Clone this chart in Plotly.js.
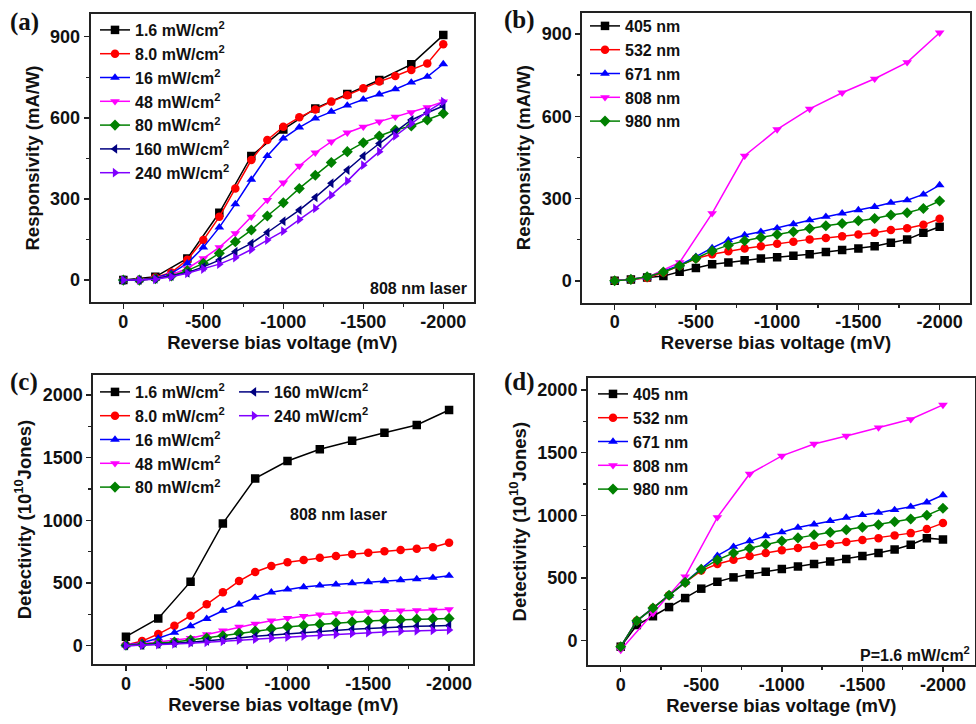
<!DOCTYPE html>
<html>
<head>
<meta charset="utf-8">
<script src="https://cdn.plot.ly/plotly-3.0.1.min.js"></script>
<style>html,body{margin:0;padding:0;background:#fff;}#chart{width:976px;height:724px;}</style>
</head>
<body>
<div id="chart"></div>
<script>
// ---------------- data ----------------
const volt = [0,-100,-200,-300,-400,-500,-600,-700,-800,-900,-1000,-1100,-1200,-1300,-1400,-1500,-1600,-1700,-1800,-1900,-2000];
const voltCoarse = [0,-200,-400,-600,-800,-1000,-1200,-1400,-1600,-1800,-2000];

const xTickVals = [0,-500,-1000,-1500,-2000];
const xTickText = ['0','-500','-1000','-1500','-2000'];
const respTickVals = [0,300,600,900];
const detTickVals = [0,500,1000,1500,2000];

const powerNames = ['1.6 mW/cm<sup>2</sup>','8.0 mW/cm<sup>2</sup>','16 mW/cm<sup>2</sup>','48 mW/cm<sup>2</sup>','80 mW/cm<sup>2</sup>','160 mW/cm<sup>2</sup>','240 mW/cm<sup>2</sup>'];
const waveNames = ['405 nm','532 nm','671 nm','808 nm','980 nm'];

// (a) responsivity vs power, 808 nm
const respA_1p6 = [0,12,80,249,459,557,635,688,740,798,906];
const respA_8   = [0,0,10,28,75,148,234,339,444,518,567,602,631,660,684,709,734,755,777,801,872];
const respA_16  = [0,0,8,25,62,121,195,281,372,459,524,565,598,623,646,668,687,706,731,752,799];
const respA_48  = [0,0,5,20,43,80,121,173,234,296,360,422,471,512,545,567,586,604,620,639,660];
const respA_80  = [0,0,5,15,35,62,99,142,185,237,286,339,388,435,475,508,533,555,570,592,616];
const respA_160 = [0,0,5,15,27,49,74,105,136,176,218,259,306,358,407,459,505,549,592,619,644];
const respA_240 = [0,0,3,12,25,41,59,83,113,148,181,224,265,314,366,425,475,533,579,623,660];

// (b) responsivity vs wavelength
const respB_405 = [0,5,12,17,33,47,60,67,75,81,86,91,97,105,112,118,126,139,151,175,197];
const respB_532 = [0,5,10,30,55,81,97,108,118,126,135,142,151,156,162,169,175,185,192,204,226];
const respB_671 = [0,5,12,35,57,88,120,148,167,179,192,207,221,234,246,258,270,285,294,315,349];
const respB_808 = [0,12,67,246,456,552,627,686,737,797,905];
const respB_980 = [0,5,15,32,55,81,109,130,146,158,169,179,191,201,209,219,227,240,248,264,291];

// (c) detectivity vs power
const detC_1p6 = [72,218,511,976,1335,1474,1567,1636,1700,1761,1881];
const detC_8   = [5,37,93,160,239,330,426,516,588,636,665,684,702,716,729,742,753,763,774,785,822];
const detC_16  = [5,24,59,104,157,215,279,330,383,426,449,468,481,489,500,508,516,524,532,543,559];
const detC_48  = [5,15,30,45,60,90,120,150,175,200,220,235,248,258,264,270,275,279,282,285,290];
const detC_80  = [3,10,20,30,45,62,80,100,118,135,150,162,172,182,190,197,203,208,212,215,218];
const detC_160 = [0,5,12,20,28,38,50,62,75,85,95,105,115,123,132,138,145,150,155,158,162];
const detC_240 = [0,3,8,14,20,27,35,44,52,60,68,76,84,91,98,104,110,115,119,122,125];

// (d) detectivity vs wavelength
const detD_405 = [-48,125,195,268,340,415,470,505,530,550,572,592,612,632,652,675,700,728,765,818,808];
const detD_532 = [-48,158,260,362,465,559,612,645,675,700,722,740,757,772,787,803,818,840,858,890,938];
const detD_671 = [-48,158,260,362,465,575,678,750,795,835,865,902,928,955,982,1003,1021,1043,1069,1104,1162];
const detD_808 = [-75,218,511,984,1330,1474,1569,1633,1700,1766,1881];
const detD_980 = [-48,158,260,362,465,569,644,700,738,768,795,820,845,865,885,905,925,948,970,1000,1056];

// ---------------- styles ----------------
const FONT = 'Liberation Sans, Arial, sans-serif';
const powerColors = ['#000000','#ff0000','#0000ff','#ff00ff','#008000','#000080','#8000ff'];
const powerSymbols = ['square','circle','triangle-up','triangle-down','diamond','triangle-left','triangle-right'];
const waveColors = ['#000000','#ff0000','#0000ff','#ff00ff','#008000'];
const waveSymbols = ['square','circle','triangle-up','triangle-down','diamond'];

function tr(x, y, name, color, symbol, xa, ya, legend) {
  return {
    type: 'scatter', mode: 'lines+markers', x: x, y: y, name: name,
    xaxis: xa, yaxis: ya, legend: legend,
    line: {color: color, width: 1.5},
    marker: {color: color, symbol: symbol, size: 8.5, line: {width: 0}}
  };
}

const traces = [];
const aY = [respA_1p6, respA_8, respA_16, respA_48, respA_80, respA_160, respA_240];
aY.forEach((y, i) => traces.push(tr(i === 0 ? voltCoarse : volt, y, powerNames[i], powerColors[i], powerSymbols[i], 'x', 'y', 'legend')));
const bY = [respB_405, respB_532, respB_671, respB_808, respB_980];
bY.forEach((y, i) => traces.push(tr(i === 3 ? voltCoarse : volt, y, waveNames[i], waveColors[i], waveSymbols[i], 'x2', 'y2', 'legend2')));
const cY = [detC_1p6, detC_8, detC_16, detC_48, detC_80, detC_160, detC_240];
cY.forEach((y, i) => traces.push(tr(i === 0 ? voltCoarse : volt, y, powerNames[i], powerColors[i], powerSymbols[i], 'x3', 'y3', i < 5 ? 'legend3' : 'legend5')));
const dY = [detD_405, detD_532, detD_671, detD_808, detD_980];
dY.forEach((y, i) => traces.push(tr(i === 3 ? voltCoarse : volt, y, waveNames[i], waveColors[i], waveSymbols[i], 'x4', 'y4', 'legend4')));

const W = 976, H = 724;
function px(v) { return v / W; }
function py(v) { return 1 - v / H; }

const tickFont = {family: FONT, size: 18, color: '#111', weight: 'bold'};
const titleFont = {family: FONT, size: 18.5, color: '#111', weight: 'bold'};

function xAxis(l, r, range, anchor) {
  return {
    domain: [px(l), px(r)], range: range, anchor: anchor,
    showline: true, mirror: true, linecolor: '#222', linewidth: 2,
    showgrid: false, zeroline: false,
    ticks: 'outside', ticklen: 5, tickwidth: 1.5, tickcolor: '#222',
    tickvals: xTickVals, ticktext: xTickText, ticklabelstandoff: -3,
    minor: {dtick: 250, tick0: 0, ticks: 'outside', ticklen: 3, tickwidth: 1.5, tickcolor: '#222', showgrid: false},
    tickfont: tickFont,
    title: {text: 'Reverse bias voltage (mV)', font: titleFont, standoff: 4}
  };
}
function yAxis(t, b, range, anchor, tickvals, minorStep, titleText) {
  return {
    domain: [py(b), py(t)], range: range, anchor: anchor,
    showline: true, mirror: true, linecolor: '#222', linewidth: 2,
    showgrid: false, zeroline: false,
    ticks: 'outside', ticklen: 5, tickwidth: 1.5, tickcolor: '#222',
    tickvals: tickvals,
    minor: {dtick: minorStep, tick0: 0, ticks: 'outside', ticklen: 3, tickwidth: 1.5, tickcolor: '#222', showgrid: false},
    tickfont: tickFont,
    title: {text: titleText, font: titleFont, standoff: 6}
  };
}

function legendAt(left, top, size) {
  return {
    x: px(left), y: py(top), xanchor: 'left', yanchor: 'top',
    bgcolor: 'rgba(0,0,0,0)', borderwidth: 0, tracegroupgap: 0,
    font: {family: FONT, size: size, color: '#111', weight: 'bold'}
  };
}

const annFont = {family: FONT, size: 16, color: '#111', weight: 'bold'};
const labFont = {family: 'Liberation Serif, Times New Roman, serif', size: 25, color: '#111', weight: 'bold'};
function ann(text, x, y, font, xanchor) {
  return {text: text, x: px(x), y: py(y), xref: 'paper', yref: 'paper', showarrow: false, font: font, xanchor: xanchor || 'center', yanchor: 'middle'};
}

const layout = {
  width: W, height: H,
  margin: {l: 0, r: 0, t: 0, b: 0},
  paper_bgcolor: '#fff', plot_bgcolor: '#fff',
  showlegend: true,
  xaxis:  xAxis(90.7, 474, [204, -2192], 'y'),
  yaxis:  yAxis(14, 302, [-81, 984], 'x', respTickVals, 150, 'Responsivity (mA/W)'),
  xaxis2: xAxis(582.3, 969.7, [199, -2185], 'y2'),
  yaxis2: yAxis(12.7, 302.7, [-80, 978], 'x2', respTickVals, 150, 'Responsivity (mA/W)'),
  xaxis3: xAxis(93.3, 473.3, [202, -2150], 'y3'),
  yaxis3: yAxis(375, 664, [-146, 2160], 'x3', detTickVals, 250, 'Detectivity (10<sup>10</sup>Jones)'),
  xaxis4: xAxis(588, 974.7, [203, -2197], 'y4'),
  yaxis4: yAxis(378.3, 665, [-194, 2093], 'x4', detTickVals, 250, 'Detectivity (10<sup>10</sup>Jones)'),
  legend:  legendAt(95, 13, 16),
  legend2: legendAt(585, 9, 16),
  legend3: legendAt(95, 375, 16),
  legend4: legendAt(593, 377, 16),
  legend5: legendAt(234, 375, 16),
  annotations: [
    ann('(a)', 24, 22, labFont),
    ann('(b)', 519, 20, labFont),
    ann('(c)', 24, 382, labFont),
    ann('(d)', 519, 382, labFont),
    ann('808 nm laser', 469, 288, annFont, 'right'),
    ann('808 nm laser', 338, 514, annFont),
    ann('P=1.6 mW/cm<sup>2</sup>', 972, 654, annFont, 'right')
  ]
};

Plotly.newPlot('chart', traces, layout, {staticPlot: true, displayModeBar: false});
</script>
</body>
</html>
